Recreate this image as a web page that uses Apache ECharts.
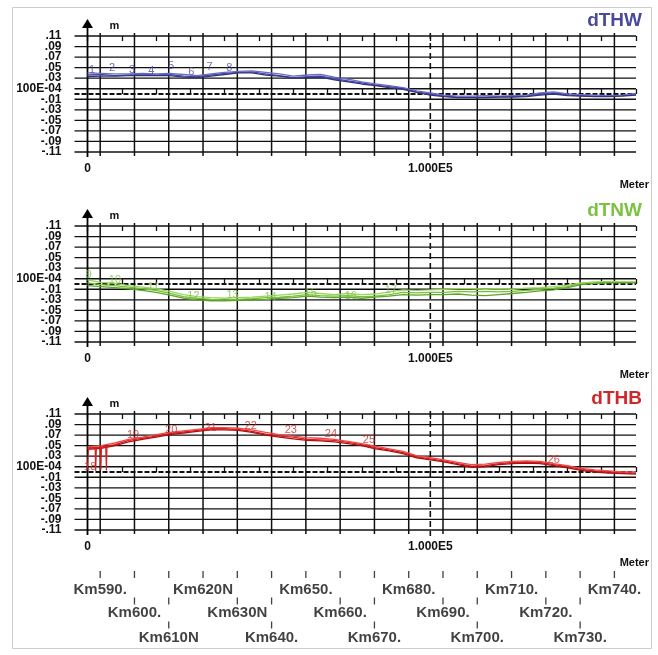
<!DOCTYPE html>
<html><head><meta charset="utf-8">
<script src="https://cdn.jsdelivr.net/npm/echarts@6/dist/echarts.min.js"></script>
<style>html,body{margin:0;padding:0;background:#fff}#c{width:658px;height:655px}</style>
</head><body><div id="c"></div>
<script>
// ---------- data ----------
const xs = [0,4000,8000,12000,16000,20000,24000,28000,32000,36000,40000,44000,48000,52000,56000,60000,64000,68000,72000,76000,80000,84000,88000,92000,96000,100000,104000,108000,112000,116000,120000,124000,128000,132000,136000,140000,144000,148000,152000,156000,160000];

const dthwA = [0.036,0.037,0.035,0.036,0.037,0.036,0.037,0.034,0.033,0.036,0.039,0.041,0.042,0.038,0.035,0.031,0.033,0.034,0.029,0.025,0.021,0.017,0.014,0.011,0.004,0.000,-0.004,-0.006,-0.006,-0.006,-0.005,-0.005,-0.004,0.000,0.002,-0.002,-0.003,-0.004,-0.004,-0.003,-0.001];
const dthwB = [0.040,0.039,0.038,0.038,0.039,0.038,0.039,0.037,0.035,0.038,0.041,0.043,0.044,0.041,0.038,0.034,0.036,0.037,0.032,0.028,0.023,0.019,0.016,0.012,0.006,0.002,-0.002,-0.004,-0.004,-0.003,-0.004,-0.003,-0.002,0.002,0.004,0.000,-0.001,-0.002,-0.003,-0.002,0.001];
const dthwC = [0.033,0.034,0.034,0.035,0.035,0.035,0.035,0.032,0.031,0.034,0.037,0.040,0.040,0.036,0.034,0.030,0.031,0.032,0.027,0.023,0.019,0.016,0.012,0.009,0.003,-0.002,-0.005,-0.007,-0.007,-0.007,-0.006,-0.006,-0.005,-0.002,0.000,-0.003,-0.004,-0.005,-0.005,-0.004,-0.002];

const dtnwA = [0.002,-0.001,-0.003,-0.006,-0.009,-0.012,-0.018,-0.024,-0.027,-0.029,-0.030,-0.029,-0.028,-0.026,-0.025,-0.023,-0.020,-0.022,-0.023,-0.022,-0.024,-0.023,-0.020,-0.016,-0.017,-0.016,-0.016,-0.014,-0.015,-0.014,-0.015,-0.014,-0.012,-0.010,-0.008,-0.005,0.001,0.002,0.003,0.003,0.003];
const dtnwB = [0.008,0.003,0.001,-0.003,-0.006,-0.009,-0.014,-0.020,-0.024,-0.026,-0.027,-0.026,-0.025,-0.023,-0.021,-0.019,-0.016,-0.018,-0.020,-0.018,-0.020,-0.019,-0.015,-0.011,-0.012,-0.011,-0.010,-0.009,-0.009,-0.010,-0.009,-0.010,-0.008,-0.007,-0.005,-0.002,0.002,0.004,0.005,0.004,0.004];
const dtnwC = [-0.003,-0.005,-0.007,-0.009,-0.012,-0.016,-0.021,-0.027,-0.030,-0.032,-0.032,-0.031,-0.030,-0.029,-0.027,-0.026,-0.023,-0.025,-0.026,-0.025,-0.027,-0.025,-0.023,-0.020,-0.021,-0.020,-0.020,-0.019,-0.021,-0.022,-0.020,-0.018,-0.016,-0.013,-0.011,-0.007,-0.001,0.001,0.002,0.002,0.002];

const dthbA = [0.045,0.047,0.052,0.060,0.064,0.068,0.073,0.076,0.079,0.082,0.082,0.081,0.077,0.072,0.068,0.066,0.062,0.061,0.060,0.056,0.052,0.046,0.042,0.037,0.029,0.025,0.021,0.016,0.011,0.012,0.016,0.018,0.019,0.018,0.014,0.010,0.005,0.002,0.000,-0.002,-0.002];
const dthbB = [0.048,0.050,0.055,0.062,0.066,0.071,0.075,0.078,0.081,0.084,0.084,0.083,0.080,0.075,0.071,0.068,0.065,0.064,0.062,0.058,0.054,0.049,0.044,0.039,0.031,0.027,0.023,0.018,0.014,0.015,0.018,0.020,0.021,0.020,0.016,0.012,0.007,0.004,0.002,0.000,0.000];
const dthbC = [0.043,0.045,0.050,0.057,0.062,0.066,0.071,0.074,0.077,0.080,0.080,0.079,0.075,0.070,0.066,0.063,0.060,0.059,0.057,0.054,0.050,0.044,0.040,0.035,0.027,0.023,0.019,0.014,0.009,0.010,0.014,0.016,0.017,0.016,0.012,0.008,0.003,0.000,-0.002,-0.003,-0.004];
const dthbSpikeX = [0,300,2200,2400,2600,3700,3900,4100,5300,5500,5700];
const dthbSpikeY = [0.008,0.046,0.046,0.002,0.047,0.046,0.004,0.047,0.048,0.003,0.048];

const dthwTags = ['1','2','3','4','5','6','7','8'];
const dthwTagX = [1300,7200,13000,18600,24400,30300,35600,41400];
const dthwTagY = [0.046,0.050,0.046,0.044,0.053,0.042,0.051,0.050];
const dtnwTags = ['9','10','11','12','13','14','15','16','17'];
const dtnwTagX = [400,8000,19200,30900,42300,53400,65100,76800,88500];
const dtnwTagY = [0.017,0.008,-0.006,-0.023,-0.021,-0.025,-0.017,-0.023,-0.011];
const dthbTags = ['18','19','20','21','22','23','24','25','26'];
const dthbTagX = [800,13300,24400,35900,47600,59300,71000,82100,136000];
const dthbTagY = [0.010,0.070,0.080,0.084,0.088,0.080,0.072,0.061,0.023];

const yTickVals = [0.11,0.09,0.07,0.05,0.03,0.01,-0.01,-0.03,-0.05,-0.07,-0.09,-0.11];
const yTickLabels = ['.11','.09','.07','.05','.03','100E-04','-.01','-.03','-.05','-.07','-.09','-.11'];
const xTickVals = [0, 100000];
const xTickLabels = ['0', '1.000E5'];

const kmLabels = ['Km590.','Km600.','Km610N','Km620N','Km630N','Km640.','Km650.','Km660.','Km670.','Km680.','Km690.','Km700.','Km710.','Km720.','Km730.','Km740.'];
const kmPos = [3700,13700,23700,33700,43700,53700,63700,73700,83700,93700,103700,113700,123700,133700,143700,153700];

// ---------- layout ----------
const X_MAX = 160000, Y_MIN = -0.11, Y_MAX = 0.11;
const FONT = "'Liberation Sans', Arial, Helvetica, sans-serif";
const INK = '#111';
const panels = [
  {title:'dTHW', color:'#4a4a9c', lines:['#4b4ba8','#6c6cc6','#34347e'], data:[dthwA,dthwB,dthwC], tags:dthwTags, tagX:dthwTagX, tagY:dthwTagY, top:36},
  {title:'dTNW', color:'#7cc242', lines:['#78bf3a','#98d65a','#5ea42a'], data:[dtnwA,dtnwB,dtnwC], tags:dtnwTags, tagX:dtnwTagX, tagY:dtnwTagY, top:226},
  {title:'dTHB', color:'#d02828', lines:['#d81e1e','#ee4a4a','#b01010'], data:[dthbA,dthbB,dthbC], tags:dthbTags, tagX:dthbTagX, tagY:dthbTagY, top:414}
];
const GRID_H = 116;

function yFmt(v){
  const n = Math.round(v*100);
  const i = yTickVals.findIndex(t => Math.round(t*100) === n);
  return i >= 0 ? yTickLabels[i] : '';
}
function xFmt(v){
  const i = xTickVals.indexOf(Math.round(v));
  return i >= 0 ? xTickLabels[i] : '';
}

// kinds: 0 horizontal grid line, 1 vertical km line, 2 dashed 1E5 line, 3 zero line, 4 y axis with arrow
function gridRender(params, api){
  const kind = api.value(0), v = api.value(1);
  const top = api.coord([0, Y_MAX])[1], bot = api.coord([0, Y_MIN])[1];
  const x0 = api.coord([0, 0])[0], x1 = api.coord([X_MAX, 0])[0];
  if (kind === 0 || kind === 3){
    const y = api.coord([0, v])[1];
    return {type:'line', shape:{x1:x0-13, y1:y, x2:x1, y2:y},
      style: kind === 3 ? {stroke:INK, lineWidth:2, lineDash:[5,2]} : {stroke:INK, lineWidth:1.3}};
  }
  if (kind === 1 || kind === 2){
    const x = api.coord([v, 0])[0];
    return {type:'line', shape:{x1:x, y1:top-3, x2:x, y2:bot+(kind===2?6:4)},
      style: kind === 2 ? {stroke:INK, lineWidth:1.6, lineDash:[6,4]} : {stroke:INK, lineWidth:1.5}};
  }
  return {type:'group', children:[
    {type:'line', shape:{x1:x0, y1:top-9, x2:x0, y2:bot+5}, style:{stroke:'#000', lineWidth:1.8}},
    {type:'polygon', shape:{points:[[x0, top-17],[x0-5.5, top-8],[x0+5.5, top-8]]}, style:{fill:'#000'}}
  ]};
}

const grid = panels.map(p => ({left:87.5, right:22, top:p.top, height:GRID_H}));
grid.push({left:87.5, right:22, top:565, height:80});

const xAxis = [], yAxis = [], series = [], title = [];
panels.forEach((p, g) => {
  xAxis.push({gridIndex:g, type:'value', min:0, max:X_MAX, interval:10000, position:'bottom',
    axisLine:{show:false}, splitLine:{show:false},
    axisTick:{show:true, inside:true, length:5, lineStyle:{color:INK, width:1.3}},
    axisLabel:{formatter:xFmt, margin:11, color:INK, fontWeight:'bold', fontSize:12, fontFamily:FONT}});
  xAxis.push({gridIndex:g, type:'value', min:0, max:X_MAX, interval:10000, position:'top',
    axisLine:{show:false}, splitLine:{show:false}, axisLabel:{show:false},
    axisTick:{show:true, inside:true, length:5, lineStyle:{color:INK, width:1.3}}});
  yAxis.push({gridIndex:g, type:'value', min:Y_MIN, max:Y_MAX, interval:0.01,
    axisLine:{show:false}, axisTick:{show:false}, splitLine:{show:false},
    axisLabel:{formatter:yFmt, margin:26, color:INK, fontWeight:'bold', fontSize:12, fontFamily:FONT},
    name:'m', nameLocation:'end', nameGap:5,
    nameTextStyle:{align:'left', padding:[0,0,0,22], color:INK, fontWeight:'bold', fontSize:11, fontFamily:FONT}});
  title.push({text:p.title, right:16, top:p.top-25, padding:0,
    textStyle:{color:p.color, fontSize:19, fontWeight:'bold', fontFamily:FONT}});
  title.push({text:'Meter', right:9, top:p.top+143, padding:0,
    textStyle:{color:INK, fontSize:11, fontWeight:'bold', fontFamily:FONT}});

  const gridItems = yTickVals.map(v => [0, v])
    .concat([[3, 0]])
    .concat(kmPos.map(x => [1, x]))
    .concat([[2, 100000]])
    .concat([[4, 0]]);
  series.push({type:'custom', xAxisIndex:2*g, yAxisIndex:g, renderItem:gridRender,
    data:gridItems, silent:true, z:1, animation:false});

  p.data.forEach((arr, k) => {
    series.push({type:'line', xAxisIndex:2*g, yAxisIndex:g, data:xs.map((x, i) => [x, arr[i]]),
      symbol:'none', showSymbol:false, lineStyle:{color:p.lines[k], width:1.3}, z:3, animation:false, silent:true});
  });
  if (g === 2){
    series.push({type:'line', xAxisIndex:4, yAxisIndex:2, data:dthbSpikeX.map((x, i) => [x, dthbSpikeY[i]]),
      symbol:'none', showSymbol:false, lineStyle:{color:p.lines[0], width:1.1}, z:3, animation:false, silent:true});
  }
  series.push({type:'scatter', xAxisIndex:2*g, yAxisIndex:g, symbolSize:1,
    itemStyle:{color:'transparent'},
    data:p.tagX.map((x, i) => ({value:[x, p.tagY[i]], name:p.tags[i]})),
    label:{show:true, position:'inside', formatter:'{b}', color:p.color, fontSize:11, fontFamily:FONT},
    z:4, animation:false, silent:true});
});

// km station scale
xAxis.push({gridIndex:3, type:'value', min:0, max:X_MAX, show:false});
yAxis.push({gridIndex:3, type:'value', min:0, max:80, inverse:true, show:false});
const tickRowY = [9.5, 36, 60];
const labelRowY = [25, 48, 73];
const kmTicks = [];
kmPos.forEach((x, k) => { for (let r = 0; r <= k % 3; r++) kmTicks.push([x, tickRowY[r]]); });
series.push({type:'scatter', xAxisIndex:6, yAxisIndex:3, symbol:'rect', symbolSize:[1.3, 7],
  itemStyle:{color:INK}, data:kmTicks, z:3, animation:false, silent:true});
series.push({type:'scatter', xAxisIndex:6, yAxisIndex:3, symbolSize:1, itemStyle:{color:'transparent'},
  data:kmPos.map((x, k) => ({value:[x, labelRowY[k % 3]], name:kmLabels[k]})),
  label:{show:true, position:'inside', formatter:'{b}', color:INK, fontSize:15, fontWeight:'bold', fontFamily:FONT},
  z:4, animation:false, silent:true});

const chart = echarts.init(document.getElementById('c'), null, {renderer:'canvas'});
chart.setOption({
  backgroundColor:'#fff',
  animation:false,
  title, grid, xAxis, yAxis, series,
  graphic:[{type:'rect', shape:{x:12.5, y:7.5, width:639, height:641}, style:{fill:'none', stroke:'#cccccc', lineWidth:1}, silent:true, z:-1}]
});
</script>
</body></html>
